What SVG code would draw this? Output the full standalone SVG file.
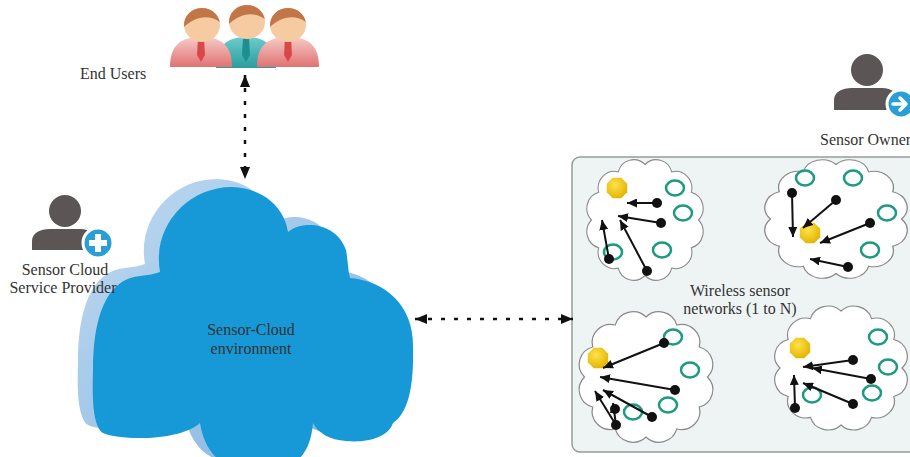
<svg xmlns="http://www.w3.org/2000/svg" xmlns:xlink="http://www.w3.org/1999/xlink" width="910" height="457" viewBox="0 0 910 457">
  <style>
    .lbl { font-family: "Liberation Serif", "Times New Roman", serif; font-size: 16px; fill: #333; }
    .mid { text-anchor: middle; }
    .dotted { stroke: #111; stroke-width: 2.5; stroke-dasharray: 4 9; fill: none; }
    .link { stroke: #111; stroke-width: 2; fill: none; marker-end: url(#tip); }
    .dot { fill: #111; }
    .ring { fill: none; stroke: #1e9b7e; stroke-width: 2.5; }
    .puff { fill: #fff; stroke: #8a8a8a; stroke-width: 1; vector-effect: non-scaling-stroke; }
    .person { fill: #5b5556; }
    .badge { fill: #2a9fd6; stroke: #fff; stroke-width: 3; }
  </style>
  <defs>
    <marker id="head" viewBox="0 0 12 10" refX="12" refY="5" markerWidth="12" markerHeight="10" markerUnits="userSpaceOnUse" orient="auto-start-reverse">
      <path d="M0,0 L12,5 L0,10 z" fill="#111"/>
    </marker>
    <marker id="tip" viewBox="0 0 10 9" refX="10" refY="4.5" markerWidth="10" markerHeight="9" markerUnits="userSpaceOnUse" orient="auto">
      <path d="M0,0 L10,4.5 L0,9 z" fill="#111"/>
    </marker>
    <linearGradient id="pink" x1="0" y1="0" x2="0" y2="1">
      <stop offset="0" stop-color="#f6cbc6"/>
      <stop offset="1" stop-color="#e07272"/>
    </linearGradient>
    <linearGradient id="teal" x1="0" y1="0" x2="0" y2="1">
      <stop offset="0" stop-color="#6ccccc"/>
      <stop offset="1" stop-color="#2a9c9c"/>
    </linearGradient>
    <linearGradient id="shade" x1="0" y1="0" x2="1" y2="1">
      <stop offset="0" stop-color="#c0daf1"/>
      <stop offset="1" stop-color="#7fb2e0"/>
    </linearGradient>
    <radialGradient id="gold" cx="0.4" cy="0.35" r="0.7">
      <stop offset="0" stop-color="#ffe24a"/>
      <stop offset="1" stop-color="#e2b300"/>
    </radialGradient>
    <clipPath id="faceClip">
      <ellipse cx="0" cy="0" rx="18" ry="17"/>
    </clipPath>
    <!-- head with hair, centred on 0,0 -->
    <g id="face">
      <ellipse cx="0" cy="0" rx="18" ry="17" fill="#f6cba2"/>
      <path d="M-20,-20 H20 V-1 C13,-8 2,-10 -8,-5 C-13,-3 -17,1 -20,4 Z" fill="#c27648" clip-path="url(#faceClip)"/>
    </g>
    <!-- outline of the large cloud -->
    <path id="blob" d="M160,272
      C152,228 186,187 232,187
      C262,188 284,206 288,232
      C302,220 336,222 346,250
      C348,262 348,270 350,278
      C386,281 413,306 413,345
      C414,385 409,412 393,423
      C388,438 366,443 346,441
      C330,440 318,433 313,423
      C310,460 290,472 257,472
      C225,472 205,455 200,423
      C180,441 122,441 103,433
      C93,426 92,400 93,370
      C93,318 106,279 140,276
      C148,275 155,274 160,272 Z"/>
    <!-- scalloped sensor-field outline, radius ~54 -->
    <path id="scallop" d="M50,0 A15,15 0 0 1 43.3,25 A15,15 0 0 1 25,43.3 A15,15 0 0 1 0,50 A15,15 0 0 1 -25,43.3 A15,15 0 0 1 -43.3,25 A15,15 0 0 1 -50,0 A15,15 0 0 1 -43.3,-25 A15,15 0 0 1 -25,-43.3 A15,15 0 0 1 0,-50 A15,15 0 0 1 25,-43.3 A15,15 0 0 1 43.3,-25 A15,15 0 0 1 50,0 Z"/>
    <polygon id="hub" points="10.2,4.2 4.2,10.2 -4.2,10.2 -10.2,4.2 -10.2,-4.2 -4.2,-10.2 4.2,-10.2 10.2,-4.2" fill="url(#gold)"/>
    <ellipse id="node" class="ring" rx="9" ry="7.5"/>
  </defs>

  <!-- End users -->
  <g id="end-users">
    <path d="M216,68 C216,46 227,37 246,37 C265,37 276,46 276,68 Z" fill="url(#teal)"/>
    <polygon points="243,38 249,38 250,55 246,62 242,55" fill="#1f8e8e"/>
    <use xlink:href="#face" x="247" y="22"/>
    <path d="M170,67 C170,45 181,37 201,37 C221,37 232,45 232,67 Z" fill="url(#pink)"/>
    <polygon points="198,38 204,38 205,55 201,62 197,55" fill="#d94848"/>
    <use xlink:href="#face" x="202" y="25"/>
    <path d="M257,67 C257,45 268,37 288,37 C308,37 319,45 319,67 Z" fill="url(#pink)"/>
    <polygon points="285,38 291,38 292,55 288,62 284,55" fill="#d94848"/>
    <use xlink:href="#face" x="288" y="25"/>
    <text class="lbl" x="80" y="79">End Users</text>
  </g>

  <!-- Sensor-Cloud environment -->
  <g id="sensor-cloud">
    <use xlink:href="#blob" transform="translate(-15,-8)" fill="url(#shade)"/>
    <use xlink:href="#blob" fill="#1699d6"/>
    <text class="lbl mid" x="251" y="335" fill="#2b3440">Sensor-Cloud</text>
    <text class="lbl mid" x="251" y="354" fill="#2b3440">environment</text>
  </g>

  <!-- Sensor cloud service provider -->
  <g id="provider">
    <circle class="person" cx="65" cy="211" r="16"/>
    <path class="person" d="M32,250 L32,241 C32,233 40,229 50,229 L80,229 C90,229 96,235 96,242 L96,250 Z"/>
    <circle class="badge" cx="98" cy="243" r="15"/>
    <rect x="95" y="234" width="6" height="18" fill="#fff"/>
    <rect x="89" y="240" width="18" height="6" fill="#fff"/>
    <text class="lbl mid" x="65" y="275">Sensor Cloud</text>
    <text class="lbl mid" x="63" y="293">Service Provider</text>
  </g>

  <!-- Sensor owner -->
  <g id="owner">
    <circle class="person" cx="867" cy="70" r="16"/>
    <path class="person" d="M834,110 L834,100 C834,92 842,88 852,88 L882,88 C892,88 898,94 898,101 L898,110 Z"/>
    <circle class="badge" cx="901" cy="104" r="14"/>
    <path d="M893,104 H905 M900,98 L906,104 L900,110" stroke="#fff" stroke-width="3.5" fill="none" stroke-linecap="round" stroke-linejoin="round"/>
    <text class="lbl" x="820" y="145">Sensor Owner</text>
  </g>

  <!-- Wireless sensor networks -->
  <g id="wsn">
    <rect x="572" y="157" width="360" height="295" rx="8" fill="#eef4f3" stroke="#9a9a9a" stroke-width="1.5"/>
    <text class="lbl mid" x="740" y="296">Wireless sensor</text>
    <text class="lbl mid" x="740" y="314">networks (1 to N)</text>
  </g>

  <g id="field-1">
    <use xlink:href="#scallop" class="puff" transform="translate(645,220) scale(1.07,1.11)"/>
    <use xlink:href="#hub" x="617" y="188"/>
    <use xlink:href="#node" x="675" y="188"/>
    <use xlink:href="#node" x="683" y="213"/>
    <use xlink:href="#node" x="613" y="252"/>
    <use xlink:href="#node" x="662" y="250"/>
    <line class="link" x1="657" y1="203" x2="627" y2="203"/>
    <line class="link" x1="661" y1="223" x2="618" y2="216"/>
    <line class="link" x1="609" y1="259" x2="602" y2="220"/>
    <line class="link" x1="647" y1="271" x2="620" y2="220"/>
    <circle class="dot" cx="657" cy="203" r="5"/>
    <circle class="dot" cx="661" cy="223" r="5"/>
    <circle class="dot" cx="609" cy="259" r="5"/>
    <circle class="dot" cx="647" cy="271" r="5"/>
  </g>

  <g id="field-2">
    <use xlink:href="#scallop" class="puff" transform="translate(836,219) scale(1.31,1.09)"/>
    <use xlink:href="#node" x="805" y="178"/>
    <use xlink:href="#node" x="853" y="178"/>
    <use xlink:href="#node" x="887" y="213"/>
    <use xlink:href="#node" x="870" y="250"/>
    <use xlink:href="#hub" x="810" y="233"/>
    <line class="link" x1="792" y1="193" x2="793" y2="237"/>
    <line class="link" x1="836" y1="200" x2="803" y2="228"/>
    <line class="link" x1="870" y1="223" x2="820" y2="243"/>
    <line class="link" x1="848" y1="267" x2="810" y2="259"/>
    <circle class="dot" cx="792" cy="193" r="5"/>
    <circle class="dot" cx="836" cy="200" r="5"/>
    <circle class="dot" cx="870" cy="223" r="5"/>
    <circle class="dot" cx="848" cy="267" r="5"/>
  </g>

  <g id="field-3">
    <use xlink:href="#scallop" class="puff" transform="translate(646,377) scale(1.23,1.2)"/>
    <use xlink:href="#hub" x="598" y="358"/>
    <use xlink:href="#node" x="673" y="337"/>
    <use xlink:href="#node" x="690" y="370"/>
    <use xlink:href="#node" x="668" y="405"/>
    <use xlink:href="#node" x="633" y="412"/>
    <line class="link" x1="664" y1="343" x2="603" y2="368"/>
    <line class="link" x1="675" y1="390" x2="600" y2="377"/>
    <line class="link" x1="652" y1="417" x2="603" y2="390"/>
    <line class="link" x1="616" y1="425" x2="595" y2="391"/>
    <circle class="dot" cx="664" cy="343" r="5"/>
    <circle class="dot" cx="675" cy="390" r="5"/>
    <circle class="dot" cx="652" cy="417" r="5"/>
    <circle class="dot" cx="615" cy="409" r="5"/>
    <line class="link" x1="616" y1="425" x2="613" y2="403"/>
    <circle class="dot" cx="616" cy="425" r="5"/>
  </g>

  <g id="field-4">
    <use xlink:href="#scallop" class="puff" transform="translate(841,368) scale(1.22,1.14)"/>
    <use xlink:href="#hub" x="800" y="348"/>
    <use xlink:href="#node" x="878" y="337"/>
    <use xlink:href="#node" x="888" y="367"/>
    <use xlink:href="#node" x="872" y="393"/>
    <use xlink:href="#node" x="812" y="395"/>
    <line class="link" x1="853" y1="360" x2="803" y2="367"/>
    <line class="link" x1="871" y1="379" x2="812" y2="368"/>
    <line class="link" x1="853" y1="404" x2="803" y2="383"/>
    <line class="link" x1="795" y1="408" x2="794" y2="375"/>
    <circle class="dot" cx="853" cy="360" r="5"/>
    <circle class="dot" cx="871" cy="379" r="5"/>
    <circle class="dot" cx="853" cy="404" r="5"/>
    <circle class="dot" cx="795" cy="408" r="5"/>
  </g>

  <!-- Connectors -->
  <g id="connectors">
    <line class="dotted" x1="245" y1="75" x2="245" y2="179" marker-start="url(#head)" marker-end="url(#head)"/>
    <line class="dotted" x1="415" y1="319" x2="573" y2="319" marker-start="url(#head)" marker-end="url(#head)"/>
  </g>
</svg>
